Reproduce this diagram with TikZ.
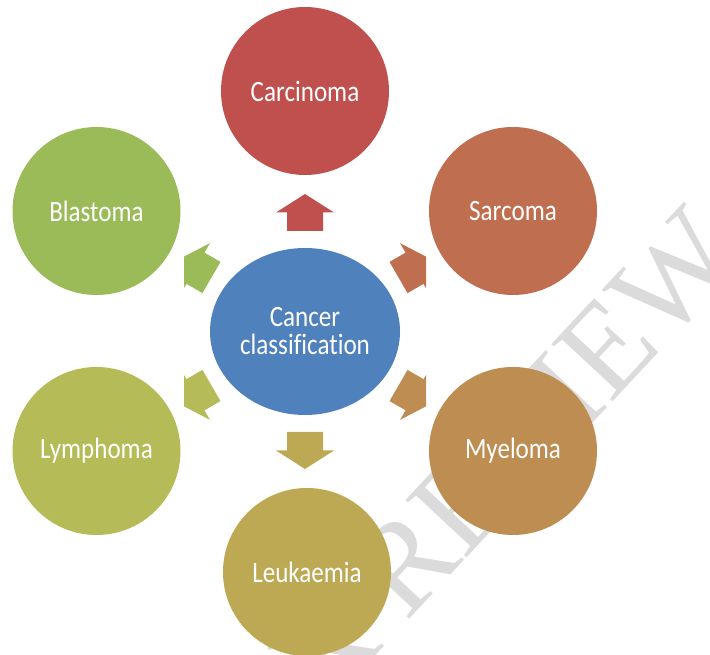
\documentclass[tikz,border=0pt]{standalone}
\usepackage{fontspec}
\newfontfamily\labelfont[FakeStretch=0.85, Ligatures=CommonOff]{Carlito}
\newfontfamily\markfont{Liberation Serif}
\usetikzlibrary{shapes.geometric}
\usetikzlibrary{positioning}

\definecolor{carcinomacol}{RGB}{192,80,77}
\definecolor{sarcomacol}{RGB}{191,111,79}
\definecolor{myelomacol}{RGB}{190,141,82}
\definecolor{leukaemiacol}{RGB}{189,169,84}
\definecolor{lymphomacol}{RGB}{181,188,87}
\definecolor{blastomacol}{RGB}{155,187,89}
\definecolor{classcol}{RGB}{79,129,189}

\begin{document}
\begin{tikzpicture}[x=1pt,y=1pt,
    typebubble/.style={circle, minimum size=168pt, inner sep=0pt, text=white, font=\labelfont\fontsize{29.5pt}{28pt}\selectfont},
    hubbubble/.style={ellipse, minimum width=190pt, minimum height=167pt, inner sep=0pt, align=center, text=white, font=\labelfont\fontsize{29.5pt}{28pt}\selectfont}]
    \useasboundingbox (0,0) rectangle (710,655);

    \node[text=gray!28, font=\markfont\fontsize{128pt}{128pt}\selectfont, rotate=47, anchor=east, inner sep=0pt] (wmark) at (716,424) {PEER REVIEW};

    % block arrows, cut at the sides as in the original
    \begin{scope}
    \clip (184,0) rectangle (426,655);
    \foreach \ang/\dist/\col in {90/119/carcinomacol, 30/126.5/sarcomacol, 330/126.5/myelomacol, 270/119/leukaemiacol, 210/126.5/lymphomacol, 150/126.5/blastomacol}
        \fill[\col, shift={(305,323.5)}, shift={(\ang:\dist)}, rotate=\ang] (-18.5,-18) -- (0,-18) -- (0,-29) -- (18.5,0) -- (0,29) -- (0,18) -- (-18.5,18) -- cycle;
    \end{scope}

    \node[typebubble, fill=carcinomacol] (carc) at (305,564) {Carcinoma};

    \node[typebubble, fill=sarcomacol] (sarc) at (513,444) {Sarcoma};

    \node[typebubble, fill=myelomacol] (myel) at (513,204) {Myeloma};

    \node[typebubble, fill=leukaemiacol] (leuk) at (307,83) {Leukaemia};

    \node[typebubble, fill=lymphomacol] (lymph) at (96.5,204) {Lymphoma};

    \node[typebubble, fill=blastomacol] (blast) at (96.5,444) {Blastoma};

    \node[hubbubble, fill=classcol] (hub) at (305,323.5) {Cancer\\classification};

\end{tikzpicture}
\end{document}
